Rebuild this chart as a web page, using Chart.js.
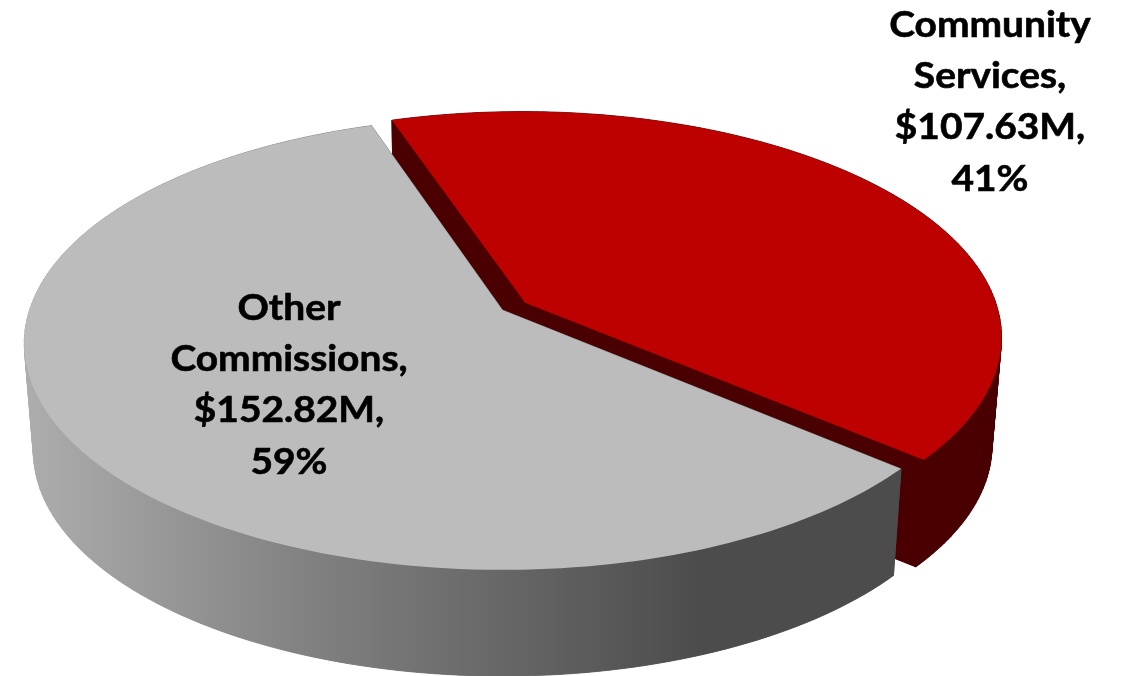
<!DOCTYPE html>
<html>
<head>
<meta charset="utf-8">
<style>
html,body{margin:0;padding:0;background:#fff}
#wrap{position:relative;width:1122px;height:676px;overflow:hidden}
</style>
<script src="https://cdn.jsdelivr.net/npm/chart.js@4/dist/chart.umd.js"></script>
</head>
<body>
<div id="wrap"><canvas id="c"></canvas></div>
<script>
const categories = ["Community Services", "Other Commissions"];
const amounts = [107.63, 152.82];
const percents = ["41%", "59%"];
const labelLines = [
  ["Community", "Services,", "$107.63M,", "41%"],
  ["Other", "Commissions,", "$152.82M,", "59%"]
];
const topColors = ["#bd0000", "#bcbcbc"];
const sideColors = ["#4a0000", null];

const view = {
  cx: 502.5, k: 0.1477,
  top: {a: 473, b: 221.5, cy: 310},
  bottom: {a: 464, b: 220, cy: 418}
};
const labelAnchors = [{x: 990, y: 25}, {x: 289, y: 308}];
const lineStep = 51.3;
const textStretch = 1.08;

function project(m, u, v) {
  const w = 1 + view.k * v;
  return [view.cx + m.a * u / w, m.cy - m.b * v / w];
}
function outline(el) {
  const R = el.outerRadius, d = (el.options.offset || 0) / R;
  const mid = (el.startAngle + el.endAngle) / 2;
  const ou = d * Math.cos(mid), ov = -d * Math.sin(mid);
  const pts = [[ou, ov]];
  const n = 160;
  for (let i = 0; i <= n; i++) {
    const t = el.startAngle + (el.endAngle - el.startAngle) * i / n;
    pts.push([ou + Math.cos(t), ov - Math.sin(t)]);
  }
  return pts;
}
function wedgePath(ctx, m, pts) {
  ctx.beginPath();
  pts.forEach((p, i) => {
    const q = project(m, p[0], p[1]);
    i ? ctx.lineTo(q[0], q[1]) : ctx.moveTo(q[0], q[1]);
  });
  ctx.closePath();
}
function drawSolid(ctx, el, index) {
  const pts = outline(el);
  let side = sideColors[index];
  if (!side) {
    side = ctx.createLinearGradient(25, 0, 700, 0);
    side.addColorStop(0, "#adadad");
    side.addColorStop(0.4, "#838383");
    side.addColorStop(1, "#4c4c4c");
  }
  ctx.save();
  ctx.fillStyle = side;
  ctx.strokeStyle = side;
  ctx.lineWidth = 0.8;
  wedgePath(ctx, view.bottom, pts);
  ctx.fill();
  for (let i = 0; i < pts.length; i++) {
    const p = pts[i], r = pts[(i + 1) % pts.length];
    const a = project(view.top, p[0], p[1]), b = project(view.top, r[0], r[1]);
    const c = project(view.bottom, r[0], r[1]), e = project(view.bottom, p[0], p[1]);
    ctx.beginPath();
    ctx.moveTo(a[0], a[1]); ctx.lineTo(b[0], b[1]); ctx.lineTo(c[0], c[1]); ctx.lineTo(e[0], e[1]);
    ctx.closePath();
    ctx.fill();
    ctx.stroke();
  }
  ctx.fillStyle = el.options.backgroundColor;
  wedgePath(ctx, view.top, pts);
  ctx.fill();
  ctx.restore();
}
const solidPie = {
  id: "solidPie",
  beforeDatasetsDraw(chart) {
    chart.getDatasetMeta(0).data.forEach((el, i) => {
      el.draw = function (ctx) { drawSolid(ctx, this, i); };
    });
  },
  afterDatasetsDraw(chart) {
    const ctx = chart.ctx;
    ctx.save();
    ctx.fillStyle = "#000";
    ctx.strokeStyle = "#000";
    ctx.lineWidth = 0.6;
    ctx.font = 'bold 36px Lato, "Open Sans", sans-serif';
    ctx.textAlign = "center";
    ctx.textBaseline = "middle";
    labelLines.forEach((lines, i) => {
      lines.forEach((line, j) => {
        ctx.save();
        ctx.translate(labelAnchors[i].x, labelAnchors[i].y + j * lineStep);
        ctx.scale(textStretch, 1);
        ctx.fillText(line, 0, 0);
        ctx.strokeText(line, 0, 0);
        ctx.restore();
      });
    });
    ctx.restore();
  }
};
new Chart(document.getElementById("c"), {
  type: "pie",
  data: {
    labels: categories,
    datasets: [{
      data: amounts,
      backgroundColor: topColors,
      borderWidth: 0,
      offset: [19, 0]
    }]
  },
  options: {
    responsive: true,
    maintainAspectRatio: false,
    animation: false,
    rotation: -18.4,
    events: [],
    plugins: {legend: {display: false}, tooltip: {enabled: false}, title: {display: false}}
  },
  plugins: [solidPie]
});
</script>
</body>
</html>
